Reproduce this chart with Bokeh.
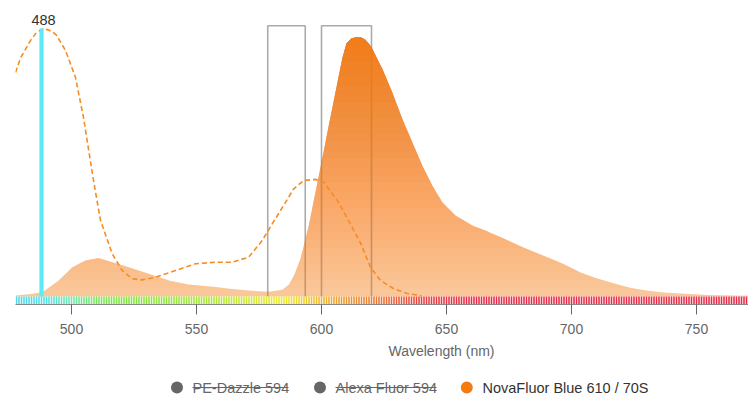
import numpy as np
from bokeh.plotting import figure
from bokeh.models import Range1d, FixedTicker
from bokeh.layouts import column
from bokeh.embed import file_html
from bokeh.resources import INLINE
from bokeh.core.properties import value

# ---------------- data ----------------
em_wl = [477.6, 483, 488.3, 494.9, 500.3, 505.6, 510.9, 516.3, 522.9, 530.9, 538.9, 546.9,
         557.6, 570.8, 578.8, 584.3, 587, 589, 591.6, 594.9, 597.6, 600.3, 602.9, 605.6,
         608.3, 610, 612, 614, 616, 617.5, 619, 620.3, 624.3, 628.3, 632.3, 636.3, 640.3,
         644.3, 648.3, 653.6, 660.3, 665.6, 674.4, 682, 690.4, 697, 703.6, 710, 716.8,
         723, 730, 737, 743.6, 755, 771]
em_val = [0.004, 0.008, 0.016, 0.06, 0.109, 0.134, 0.144, 0.128, 0.109, 0.085, 0.06, 0.045,
          0.035, 0.022, 0.018, 0.025, 0.045, 0.078, 0.141, 0.265, 0.389, 0.514, 0.638, 0.762,
          0.887, 0.945, 0.964, 0.967, 0.966, 0.958, 0.943, 0.924, 0.85, 0.762, 0.663, 0.576,
          0.489, 0.414, 0.352, 0.302, 0.265, 0.246, 0.21, 0.178, 0.146, 0.12, 0.09, 0.068,
          0.049, 0.034, 0.022, 0.015, 0.011, 0.006, 0.003]

ex_wl = [477.6, 479.6, 483.6, 486, 489, 492, 494, 497.6, 501.6, 504.8, 508.8, 511.6, 516.3,
         520.3, 524.3, 528.3, 533.6, 541.6, 549.6, 557.6, 564.3, 570.9, 576.3, 580.3, 583.6,
         588.9, 592.9, 597.6, 600.9, 606.6, 611, 615.6, 619.6, 623.6, 628.9, 634, 640]
ex_val = [0.836, 0.89, 0.955, 0.985, 1.0, 0.99, 0.975, 0.918, 0.817, 0.668, 0.433, 0.284,
          0.159, 0.097, 0.066, 0.062, 0.072, 0.097, 0.122, 0.128, 0.128, 0.147, 0.209, 0.271,
          0.321, 0.402, 0.433, 0.437, 0.427, 0.355, 0.28, 0.2, 0.109, 0.06, 0.029, 0.012,
          0.003]

laser_wl = [488]
laser_top = [1.0]
laser_label = ["488"]

filter_lo = [578.5, 600.0]
filter_hi = [593.5, 620.0]
filter_top = 1.01

x_ticks = [500, 550, 600, 650, 700, 750]
x_label = "Wavelength (nm)"

legend_labels = ["PE-Dazzle 594", "Alexa Fluor 594", "NovaFluor Blue 610 / 70S"]
legend_active = [False, False, True]

# ---------------- style ----------------
FONT = "Liberation Sans"
ORANGE = "#F47A14"
X0, X1 = 477.6, 770.8
Y0, Y1 = -8 / 268, 296 / 268
LEFT = 15

p = figure(width=748, height=340, x_range=Range1d(X0, X1), y_range=Range1d(Y0, Y1),
           output_backend="svg", toolbar_location=None, y_axis_location=None,
           min_border_left=LEFT, min_border_right=0, min_border_top=0, min_border_bottom=36)
p.outline_line_color = None
p.grid.visible = False

# filter boxes (open at bottom)
p.multi_line(xs=[[lo, lo, hi, hi] for lo, hi in zip(filter_lo, filter_hi)],
             ys=[[0, filter_top, filter_top, 0] for _ in filter_lo],
             line_color="#ABABAB", line_width=1.6)

# emission fill with vertical alpha gradient (stacked layers)
x = np.asarray(em_wl, float)
y = np.asarray(em_val, float)
N = 32
levels = np.linspace(0, y.max(), N + 1)

def refine(x, y, lv):
    xs, ys = [x[0]], [y[0]]
    for i in range(len(x) - 1):
        xa, xb, ya, yb = x[i], x[i + 1], y[i], y[i + 1]
        cr = []
        for L in lv:
            if (ya - L) * (yb - L) < 0:
                t = (L - ya) / (yb - ya)
                cr.append((t, L))
        for t, L in sorted(cr):
            xs.append(xa + t * (xb - xa))
            ys.append(L)
        xs.append(xb)
        ys.append(yb)
    return np.array(xs), np.array(ys)

xr, yr = refine(x, y, levels)

def target_alpha(v):
    return 0.41 + 0.57 * v ** 0.9

prev = None
for k in range(N):
    lo, hi = levels[k], levels[k + 1]
    A = target_alpha((lo + hi) / 2)
    d = A if prev is None else 1 - (1 - A) / (1 - prev)
    prev = A
    p.varea(x=xr, y1=lo, y2=np.maximum(yr, lo), fill_color=ORANGE, fill_alpha=d)

# excitation dashed curve
p.line(ex_wl, ex_val, line_color="#F58C24", line_width=1.6, line_dash="5 3")

# laser line
p.segment(x0=laser_wl, y0=[0], x1=laser_wl, y1=laser_top, line_color="#5CEAF6", line_width=4.2)
p.text(x=laser_wl, y=laser_top, text=laser_label, text_font=value(FONT),
       text_font_size="14.5px", text_color="#333333", text_align="center",
       text_baseline="alphabetic", x_offset=2, y_offset=-9)

# color spectrum strip
strip_wl = np.arange(478, 771, 1.0)
anc_wl = [478, 490, 500, 510, 520, 550, 570, 585, 595, 610, 625, 640, 660, 780]
anc_r = [80, 75, 110, 120, 125, 160, 205, 235, 240, 240, 240, 240, 240, 240]
anc_g = [215, 230, 232, 232, 232, 232, 235, 235, 200, 150, 110, 60, 40, 40]
anc_b = [235, 230, 170, 90, 60, 50, 45, 35, 35, 40, 50, 60, 70, 70]
cols = ["#%02x%02x%02x" % (int(np.interp(w, anc_wl, anc_r)), int(np.interp(w, anc_wl, anc_g)),
                           int(np.interp(w, anc_wl, anc_b))) for w in strip_wl]
p.vbar(x=strip_wl, width=0.62, bottom=Y0, top=0, fill_color=cols, line_color=None)

# axis
ax = p.xaxis[0]
ax.ticker = FixedTicker(ticks=x_ticks)
ax.minor_tick_line_color = None
ax.major_tick_out = 10
ax.major_tick_in = 0
ax.major_tick_line_color = "#666666"
ax.axis_line_color = "#888888"
ax.major_label_text_font = FONT
ax.major_label_text_font_size = "14px"
ax.major_label_text_color = "#666666"
ax.major_label_standoff = 9

# ---------------- legend / axis title strip (pixel coordinates) ----------------
leg = figure(width=748, height=61, x_range=Range1d(LEFT, 748), y_range=Range1d(61, 0),
             output_backend="svg", toolbar_location=None, x_axis_location=None,
             y_axis_location=None, min_border_left=LEFT, min_border_right=0,
             min_border_top=0, min_border_bottom=0)
leg.outline_line_color = None
leg.grid.visible = False

leg.text(x=[441], y=[10.5], text=[x_label], text_font=value(FONT), text_font_size="14px",
         text_color="#666666", text_align="center", text_baseline="middle")

dot_x = [176.5, 319.5, 466.3]
txt_x = [192, 335, 482]
txt_w = [96, 101, 166]
ly = 47
dot_c = [ORANGE if a else "#666666" for a in legend_active]
txt_c = ["#333333" if a else "#666666" for a in legend_active]
leg.scatter(x=dot_x, y=[ly] * 3, size=12, fill_color=dot_c, line_color=None)
leg.text(x=txt_x, y=[ly] * 3, text=legend_labels, text_font=value(FONT),
         text_font_size="14.5px", text_color=txt_c, text_align="left", text_baseline="middle")
sx0 = [tx for tx, a in zip(txt_x, legend_active) if not a]
sx1 = [tx + w for tx, w, a in zip(txt_x, txt_w, legend_active) if not a]
leg.segment(x0=sx0, y0=[ly] * len(sx0), x1=sx1, y1=[ly] * len(sx0),
            line_color="#666666", line_width=1.2)

layout = column(p, leg)
open("out.html", "w").write(file_html(layout, INLINE))
